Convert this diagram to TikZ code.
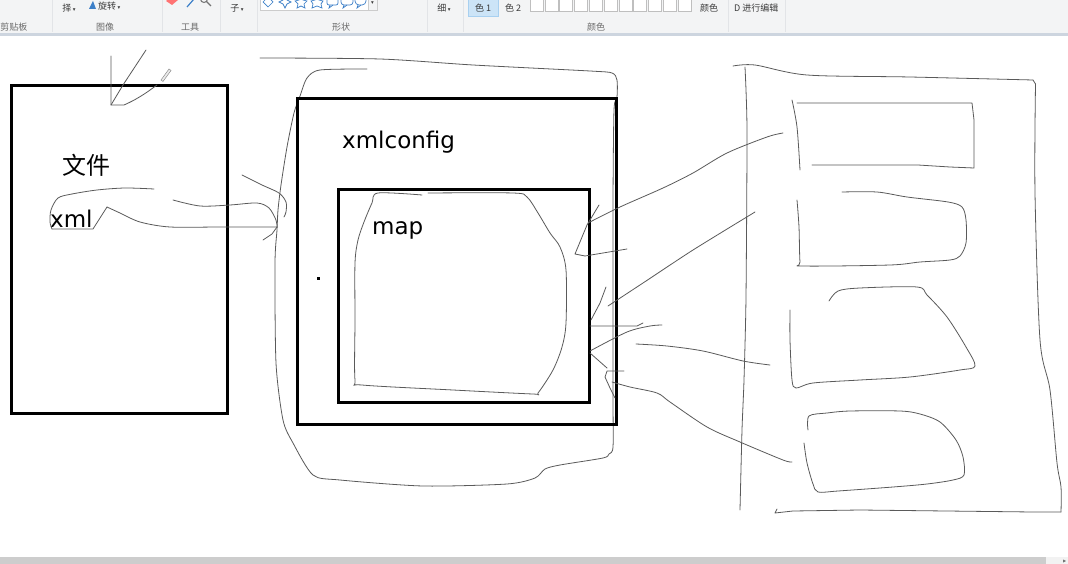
\documentclass[tikz,border=0pt]{standalone}
\usepackage{fontspec}
\setmainfont{DejaVu Sans}
\newfontfamily\cjk{Noto Sans CJK SC}
\newfontfamily\sym{DejaVu Sans}
\definecolor{barbg}{HTML}{F3F4F5}
\definecolor{barline}{HTML}{CDD5DF}
\definecolor{sepc}{HTML}{E2E4E7}
\definecolor{seltab}{HTML}{CCE4F7}
\definecolor{selbd}{HTML}{A8D0F0}
\definecolor{uitext}{HTML}{3A3A3A}
\definecolor{grptext}{HTML}{6A6A6A}
\definecolor{penc}{HTML}{5A5A5A}
\definecolor{scrollc}{HTML}{CDCDCD}
\definecolor{iconblue}{HTML}{3C7FC8}
\newcommand{\ddarrow}{{\sym\scalebox{0.6}{▾}}}
\begin{document}
\begin{tikzpicture}[x=1pt,y=-1pt,
  hand/.style={draw=penc, line width=0.8pt, line cap=round, line join=round},
  thickbox/.style={draw=black, line width=3pt, fill=none, inner sep=0pt},
  uilabel/.style={font=\cjk\fontsize{9}{9}\selectfont, text=uitext, inner sep=0pt},
  grplabel/.style={font=\cjk\fontsize{9}{9}\selectfont, text=grptext, inner sep=0pt},
  swatch/.style={draw=black!25, fill=white, line width=0.6pt},
  sep/.style={draw=sepc, line width=0.8pt},
  big/.style={font=\fontsize{23}{23}\selectfont, inner sep=0pt},
]
\useasboundingbox (0,0) rectangle (1068,564);
\clip (0,0) rectangle (1068,564);
\fill[white] (0,0) rectangle (1068,564);

% ---------- ribbon ----------
\fill[barbg] (0,0) rectangle (1068,33);
\fill[barline] (0,33) rectangle (1068,36);
\foreach \xx in {52,162,220,257,427,463,728,785}
  \draw[sep] (\xx,0) -- (\xx,32);

\node[grplabel] (g1) at (14,27) {剪贴板};
\node[grplabel] (g2) at (105,27) {图像};
\node[grplabel] (g3) at (190,27) {工具};
\node[grplabel] (g4) at (341,27) {形状};
\node[grplabel] (g5) at (596,27) {颜色};

\node[uilabel] (sel2) at (69,8) {择\,\ddarrow};
\fill[iconblue] (89,9) -- (93,1) -- (96,9) -- cycle;
\node[uilabel, anchor=west] (rot) at (98,6) {旋转\,\ddarrow};
\fill[red!55!white] (166,1) -- (172,-4) -- (178,0) -- (172,5) -- cycle;
\draw[iconblue, line width=1.2pt] (187,7) -- (194,-1);
\draw[black!55, line width=1pt] (204,-1) circle (3.5);
\draw[black!55, line width=1.2pt] (206.5,1.5) -- (211,6);
\node[uilabel] (br2) at (237,8) {子\,\ddarrow};

\fill[white] (260,-2) rectangle (368,10);
\draw[black!20] (260,-2) rectangle (368,10);
\draw[black!20] (368,-2) rectangle (377,10);
\node[uilabel] (dd) at (372.5,3) {\ddarrow};
\begin{scope}[draw=iconblue, line width=0.7pt]
  \draw (263,2) -- (268,-3) -- (273,2) -- (268,7) -- cycle;
  \draw (279,2) -- (283,0) -- (285,-4) -- (287,0) -- (291,2) -- (287,4) -- (285,8) -- (283,4) -- cycle;
  \draw (295,1) -- (299,0) -- (301,-4) -- (303,0) -- (307,1) -- (304,4) -- (305,8) -- (301,6) -- (297,8) -- (298,4) -- cycle;
  \draw (311,1) -- (315,0) -- (317,-4) -- (319,0) -- (323,1) -- (321,4) -- (322,8) -- (317,6) -- (312,8) -- (313,4) -- cycle;
  \draw[rounded corners=2pt] (327,-4) rectangle (338,5);
  \draw (330,5) -- (329,8) -- (333,5);
  \draw[rounded corners=3pt] (341,-4) rectangle (353,5);
  \draw (344,5) -- (343,8) -- (347,5);
  \draw[rounded corners=4pt] (355,-4) rectangle (366,5);
  \draw (358,5) -- (357,8) -- (361,5);
\end{scope}

\node[uilabel] (th2) at (444,8) {细\,\ddarrow};

\fill[seltab] (468,-2) rectangle (498,16);
\draw[selbd, line width=0.6pt] (468,-2) rectangle (498,16);
\node[uilabel] (c1b) at (483,8) {色 1};
\node[uilabel] (c2b) at (513,8) {色 2};
\foreach \i in {0,...,10}
  \draw[swatch] ({530+\i*14.8},-2) rectangle ({543+\i*14.8},11);
\node[uilabel] (ed2) at (709,8) {颜色};
\node[uilabel, anchor=west] (p3b) at (734,8) {D 进行编辑};

% ---------- scroll bar ----------
\fill[scrollc] (0,557) rectangle (1046,564);
\fill[black!5] (1046,557) rectangle (1068,564);
\fill[black!55] (1063,559.5) -- (1066,561) -- (1063,562.5) -- cycle;

% ---------- left box: file ----------
\node[thickbox, minimum width=216pt, minimum height=327pt] (file) at (119,249.5) {};
\node[font=\cjk\fontsize{24}{24}\selectfont, inner sep=0pt] (wenjian) at (86,165) {文件};
\node[big, anchor=base west] (xml) at (50,228) {xml};

% strokes above the file box
\draw[hand] (111,56) -- (111,105) -- (124,105) .. controls (140,98) and (150,90) .. (157,85);
\draw[hand] (146,50) -- (123,85) -- (111,105);
\draw[draw=black!45, fill=black!8, line width=0.5pt] (161,80) -- (169,69) -- (171,70.5) -- (163,81.5) -- cycle;

% blob round "xml" with arrow
\draw[hand] plot[smooth, tension=0.5] coordinates {(154,189) (125,188) (97,190) (72,194) (58,198) (51,210) (50,222) (52,229)};
\draw[hand] (52,229) -- (93,229) -- (107,207);
\draw[hand] plot[smooth, tension=0.5] coordinates {(107,207) (120,213) (140,222) (170,227) (220,227) (277,227)};
\draw[hand] plot[smooth, tension=0.5] coordinates {(173,200) (200,206) (230,205) (257,203) (269,208) (276,220) (277,227)};
\draw[hand] (277,227) -- (272,234) -- (263,240);
\draw[hand] plot[smooth, tension=0.5] coordinates {(242,175) (262,185) (279,193) (286,202) (286,212) (284,217)};

% ---------- middle: xmlconfig ----------
\draw[hand] plot[smooth, tension=0.45] coordinates {(260,58) (380,59) (473,65) (590,71) (612,73) (617,80) (617,97) (614,110) (613,200) (613,300) (613,400) (613,447) (609,454) (603,458) (560,465) (545,469) (535,478) (507,484) (423,486) (340,480) (313,475) (293,443) (283,420) (276,363) (275,263) (277,230) (278,210) (281,185) (287,147) (294,113) (300,96) (307,78) (320,70) (367,69)};
\node[thickbox, minimum width=319pt, minimum height=325pt] (cfg) at (456.5,261.5) {};
\node[big, anchor=base west] (xmlconfig) at (342,149) {xmlconfig};
\fill[black] (316.5,276.5) rectangle (319.5,280);

% map box
\node[thickbox, minimum width=251pt, minimum height=212pt] (mapbox) at (463.5,296) {};
\node[big, anchor=base west] (map) at (372,235) {map};
\draw[hand] plot[smooth, tension=0.5] coordinates {(422,195) (378,193) (372,203) (364,222) (358,240) (355,263) (355,320) (355,380) (362,385) (453,390) (533,394) (538,393) (553,370) (562,347) (566,323) (566,270) (560,247) (550,233) (538,213) (527,197) (513,193) (428,193)};

% ---------- right frame ----------
\draw[hand] plot[smooth, tension=0.5] coordinates {(733,66) (755,65) (807,75) (910,77) (1033,80)};
\draw[hand] (1033,80) -- (1035.5,84);
\draw[hand] plot[smooth, tension=0.5] coordinates {(1035.5,84) (1035,193) (1040,340) (1050,390) (1057,463) (1061,487) (1061,512)};
\draw[hand] (1061,512) -- (1033,512) -- (860,510) -- (793,511) -- (775,513) -- (777,509);
\draw[hand] plot[smooth, tension=0.4] coordinates {(745,67) (747,130) (746,297) (744,380) (742,430) (740,510)};

% item 1
\draw[hand] plot[smooth, tension=0.5] coordinates {(792,100) (797,127) (800,170)};
\draw[hand] (797,103) -- (972,103) -- (974,120) -- (974,168) -- (950,167) -- (918,165) -- (812,165);
% item 2
\draw[hand] plot[smooth, tension=0.5] coordinates {(842,192) (877,192) (907,197) (948,202) (962,207) (966,220) (966,243) (960,256) (950,260) (920,262) (890,265) (803,266) (800,262) (799,227) (797,200)};
% item 3
\draw[hand] plot[smooth, tension=0.5] coordinates {(829,301) (838,291) (860,288) (917,287) (927,295) (947,317) (966,347) (975,366) (960,370) (910,377) (860,380) (813,383) (796,388) (792,380) (790,340) (790,310)};
% item 4
\draw[hand] plot[smooth, tension=0.5] coordinates {(808,430) (809,416) (827,413) (850,411) (900,411) (920,414) (940,422) (956,440) (963,457) (964,475) (953,480) (927,484) (893,487) (838,491) (818,492) (813,484) (807,463) (804,443)};

% ---------- connectors from the items to map ----------
\coordinate (a1) at (783,133);
\draw[hand] plot[smooth, tension=0.5] coordinates {(a1) (767,137) (727,153) (693,173) (663,188) (620,207) (588,223)};
\draw[hand] (599,205) -- (587,225) -- (575,254) -- (585,256) -- (627,249);
\draw[hand] plot[smooth, tension=0.4] coordinates {(755,212) (693,250) (643,283) (608,306)};
\draw[hand] (606,287) -- (600,303) -- (591,320);
\draw[hand] (590,326) -- (637,326) -- (643,323);
\draw[hand] plot[smooth, tension=0.5] coordinates {(662,325) (650,326) (627,332) (590,351)};
\draw[hand] (590,353) -- (607,368);
\draw[hand] plot[smooth, tension=0.5] coordinates {(636,344) (667,346) (703,351) (743,361) (770,365)};
\draw[hand] (624,371) -- (607,371) -- (605,377) -- (610,388) -- (615,398);
\draw[hand] plot[smooth, tension=0.5] coordinates {(612,382) (630,387) (657,393) (670,402) (707,427) (740,442) (783,460) (792,462)};
\end{tikzpicture}
\end{document}
